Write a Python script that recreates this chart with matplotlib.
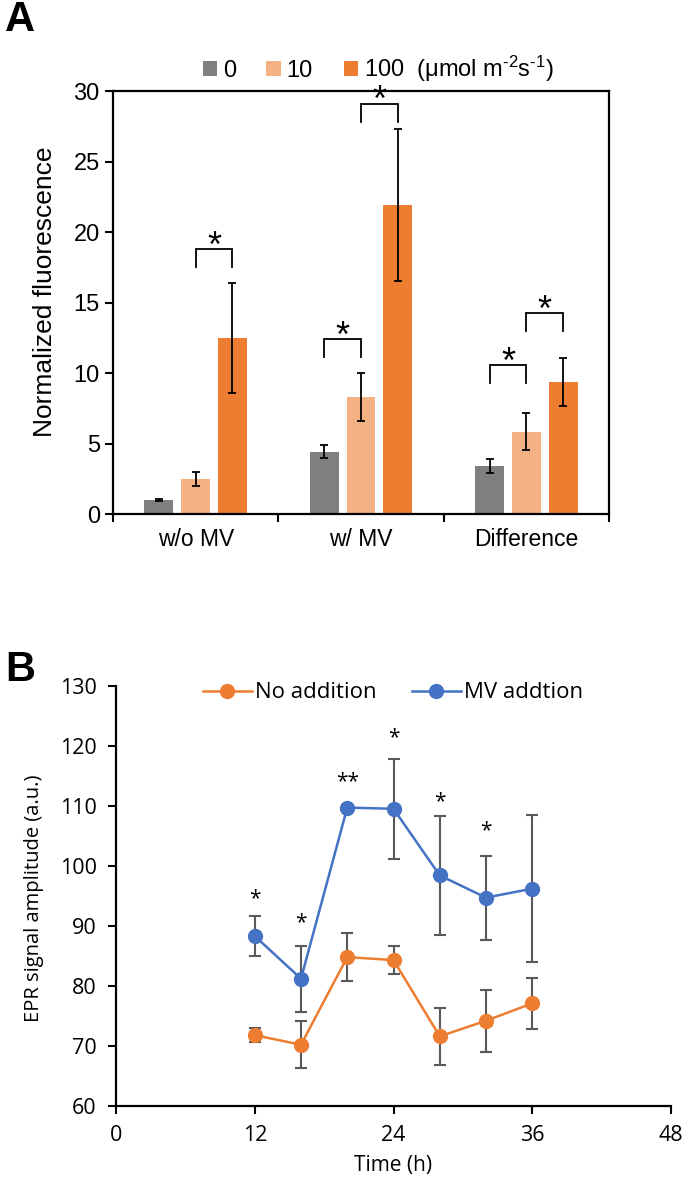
import matplotlib
matplotlib.use("Agg")
import matplotlib.pyplot as plt
from matplotlib.patches import Patch
from matplotlib.lines import Line2D
import numpy as np

# ---------------- Data: panel A ----------------
categories = ["w/o MV", "w/ MV", "Difference"]
light_levels = ["0", "10", "100  (μmol m$^{\\text{-2}}$s$^{\\text{-1}}$)"]
vals_0 = [1.0, 4.42, 3.4]
vals_10 = [2.5, 8.3, 5.84]
vals_100 = [12.5, 21.9, 9.36]
err_0 = [0.05, 0.47, 0.48]
err_10 = [0.5, 1.72, 1.3]
err_100 = [3.9, 5.4, 1.73]
# significance brackets: (category index, left bar idx, right bar idx, bracket top y)
brackets = [(0, 1, 2, 18.8), (1, 0, 1, 12.4), (1, 1, 2, 29.1), (2, 0, 1, 10.57), (2, 1, 2, 14.25)]

# ---------------- Data: panel B ----------------
time_h = [12, 16, 20, 24, 28, 32, 36]
no_add = [71.8, 70.2, 84.8, 84.3, 71.6, 74.2, 77.1]
no_add_err = [1.2, 3.95, 3.95, 2.3, 4.8, 5.2, 4.25]
mv_add = [88.3, 81.2, 109.7, 109.5, 98.4, 94.7, 96.2]
mv_add_err = [3.3, 5.5, 0.0, 8.3, 9.85, 7.0, 12.3]
star_x = [12, 16, 20, 24, 28, 32]
star_y = [94.6, 90.5, 114.0, 121.4, 110.7, 105.8]
star_txt = ["*", "*", "**", "*", "*", "*"]

C0, C10, C100 = "#7F7F7F", "#F4B183", "#ED7D31"
CBLUE, CORANGE = "#4472C4", "#ED7D31"

plt.rcParams["mathtext.fontset"] = "custom"
plt.rcParams["mathtext.rm"] = "Liberation Sans"
plt.rcParams["mathtext.it"] = "Liberation Sans:italic"
plt.rcParams["mathtext.bf"] = "Liberation Sans:bold"

W, H = 685, 1194
fig = plt.figure(figsize=(W / 100, H / 100), dpi=100)

def ax_rect(l, t, r, b):
    return [l / W, 1 - b / H, (r - l) / W, (b - t) / H]

# ---------------- Panel A ----------------
fA = "Liberation Sans"
axA = fig.add_axes(ax_rect(113, 91, 609, 514))
x = np.arange(len(categories))
bw = 0.175
off = 0.222
series = [(vals_0, err_0, C0), (vals_10, err_10, C10), (vals_100, err_100, C100)]
for i, (v, e, c) in enumerate(series):
    xi = x + (i - 1) * off
    axA.bar(xi, v, width=bw, color=c, zorder=2)
    axA.errorbar(xi, v, yerr=e, fmt="none", ecolor="black", elinewidth=1.3,
                 capsize=3, capthick=1.3, zorder=3)
for (ci, b1, b2, yt) in brackets:
    x1 = ci + (b1 - 1) * off
    x2 = ci + (b2 - 1) * off
    axA.plot([x1, x1, x2, x2], [yt - 1.3, yt, yt, yt - 1.3], color="black", lw=1.3,
             zorder=4, solid_joinstyle="miter")
    axA.annotate("*", xy=((x1 + x2) / 2, yt), xytext=(0, -5.5),
                 textcoords="offset points", ha="center", va="baseline",
                 fontsize=26, family=fA, zorder=5)
axA.set_xlim(-0.5, 2.5)
axA.set_ylim(0, 30)
axA.set_yticks([0, 5, 10, 15, 20, 25, 30])
axA.set_xticks([-0.5, 0.5, 1.5, 2.5])
axA.set_xticklabels([])
axA.set_xticks(x, minor=True)
axA.set_xticklabels(categories, minor=True, fontsize=16.5, family=fA)
axA.tick_params(axis="x", which="minor", length=0, pad=10)
axA.tick_params(axis="both", which="major", direction="out", length=6, width=1.5,
                labelsize=17)
for lab in axA.get_yticklabels():
    lab.set_family(fA)
for s in axA.spines.values():
    s.set_linewidth(1.6)
fig.text(45 / W, 1 - 292 / H, "Normalized fluorescence", rotation=90, ha="center",
         va="center", fontsize=19, family=fA)
handlesA = [Patch(facecolor=c) for c in (C0, C10, C100)]
fig.legend(handlesA, light_levels, loc="center", bbox_to_anchor=(378 / W, 1 - 69 / H),
           ncol=3, frameon=False, prop={"family": fA, "size": 17},
           handlelength=0.6, handleheight=0.6, handletextpad=0.25, columnspacing=1.3)
fig.text(5 / W, 1 - 20 / H, "A", ha="left", va="center", fontsize=30,
         fontweight="bold", family=fA)

# ---------------- Panel B ----------------
fB = "Open Sans"
axB = fig.add_axes(ax_rect(116, 685.7, 671, 1106))
axB.errorbar(time_h, no_add, yerr=no_add_err, fmt="none", ecolor="#595959",
             elinewidth=1.5, capsize=4, capthick=1.5, zorder=2)
axB.errorbar(time_h, mv_add, yerr=mv_add_err, fmt="none", ecolor="#595959",
             elinewidth=1.5, capsize=4, capthick=1.5, zorder=2)
axB.plot(time_h, no_add, "-o", color=CORANGE, lw=1.8, ms=10, zorder=3)
axB.plot(time_h, mv_add, "-o", color=CBLUE, lw=1.8, ms=10, zorder=3)
for sx, sy, st in zip(star_x, star_y, star_txt):
    axB.text(sx, sy, st, ha="center", va="center", fontsize=15, family=fB)
axB.set_xlim(0, 48)
axB.set_ylim(60, 130)
axB.set_xticks([0, 12, 24, 36, 48])
axB.set_yticks(range(60, 131, 10))
axB.spines["top"].set_visible(False)
axB.spines["right"].set_visible(False)
for s in ("left", "bottom"):
    axB.spines[s].set_linewidth(1.6)
axB.tick_params(axis="both", direction="out", length=6, width=1.5, labelsize=15.5, pad=8)
for lab in axB.get_xticklabels() + axB.get_yticklabels():
    lab.set_family(fB)
axB.set_xlabel("Time (h)", fontsize=15, family=fB, labelpad=6)
fig.text(34 / W, 1 - 898 / H, "EPR signal amplitude (a.u.)", rotation=90, ha="center",
         va="center", fontsize=14.5, family=fB)
handlesB = [Line2D([], [], color=CORANGE, marker="o", ms=10, lw=1.8),
            Line2D([], [], color=CBLUE, marker="o", ms=10, lw=1.8)]
fig.legend(handlesB, ["No addition", "MV addtion"], loc="center",
           bbox_to_anchor=(393 / W, 1 - 693 / H), ncol=2, frameon=False,
           prop={"family": fB, "size": 16}, handlelength=2.2, handletextpad=0.15,
           columnspacing=1.6)
fig.text(5 / W, 1 - 670 / H, "B", ha="left", va="center", fontsize=30,
         fontweight="bold", family=fA)

fig.savefig("out.png", dpi=100)
